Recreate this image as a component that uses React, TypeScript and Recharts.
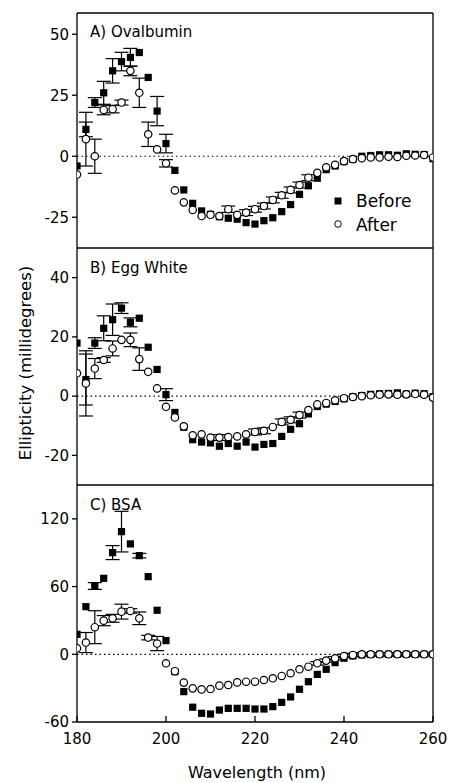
import { ScatterChart, Scatter, XAxis, YAxis, ErrorBar, ReferenceLine, Legend } from "recharts";

const FONT = "'DejaVu Sans', sans-serif";

// wavelength grid (nm)
const wavelengths = [
  180, 182, 184, 186, 188, 190, 192, 194, 196, 198, 200, 202, 204, 206, 208, 210, 212, 214, 216, 218, 220,
  222, 224, 226, 228, 230, 232, 234, 236, 238, 240, 242, 244, 246, 248, 250, 252, 254, 256, 258, 260,
];

// A) Ovalbumin
const beforeA = [
  -4, 11, 22, 26, 35, 38.8, 40.5, 42.5, 32.3, 18.5, 5.2, -5.8, -13.8, -19.3, -22.4, -23.8, -24.8, -25.4, -25.8, -27.2, -27.8,
  -26.4, -25.2, -22.7, -19.8, -15.6, -12.1, -9, -5.5, -4, -2.2, -1.2, 0, 0.3, 0.6, 0.6, 0.4, 1, 0.8, 0.7, -1,
];
const afterA = [
  -7.5, 7, 0, 19, 19.3, 22, 35, 26, 9, 2.8, -2.9, -14, -18.9, -22, -24.5, -24, -24.5, -21.7, -24, -23.1, -21.7,
  -20.4, -17.9, -16, -13.8, -11.8, -8.8, -6.8, -4.5, -3.5, -2, -1.2, -0.8, -0.5, -0.5, -0.2, -0.3, 0.2, 0.3, 0.5, -0.5,
];
const errBeforeA: Record<number, number> = { 182: 3, 184: 2, 186: 4.7, 188: 5, 190: 3.8, 192: 3.7, 198: 6, 200: 3.8 };
const errAfterA: Record<number, number> = {
  182: 11, 184: 7, 186: 2, 188: 1.5, 190: 1, 192: 2, 194: 6, 196: 5, 200: 1.5,
  214: 1.3, 218: 1.2, 220: 1.2, 222: 1.2, 224: 1.2, 226: 1.2, 228: 1.2, 230: 1.2, 232: 1.2,
};

// B) Egg White
const beforeB = [
  17.9, 5.6, 17.9, 22.9, 25.8, 29.7, 24.9, 26.3, 16.5, 9, 0.5, -5.5, -10.5, -14.7, -15.5, -15.8, -16.9, -16, -16.9, -15.5, -17.2,
  -16.3, -16, -13.6, -11.2, -9.3, -6, -3.5, -2.7, -1.8, -0.9, -0.2, 0.2, 0.6, 0.8, 0.9, 1.1, 0.7, 1, 0.8, -0.2,
];
const afterB = [
  7.7, 4.3, 9.3, 12.2, 16.1, 19, 19, 12.5, 8.2, 2.6, -3.6, -7.2, -10.2, -13.2, -12.9, -14, -14, -13.8, -13.6, -12.9, -12.1,
  -11.7, -10.4, -8.7, -8, -6.4, -4.7, -2.8, -2.3, -1.4, -0.7, -0.3, 0, 0.3, 0.5, 0.6, 0.5, 0.6, 0.7, 0.5, -0.5,
];
const errBeforeB: Record<number, number> = { 182: 8.6, 184: 1.8, 186: 4.2, 188: 5.3, 190: 1.8, 192: 1.5, 200: 2 };
const errAfterB: Record<number, number> = {
  182: 11, 184: 3.4, 186: 0.8, 188: 2.5, 192: 2.3, 194: 3.8, 212: 1, 220: 1, 222: 1, 226: 1, 228: 1, 230: 1,
};

// C) BSA
const beforeC = [
  17.7, 42.2, 60.5, 67.3, 90.1, 108.7, 97.8, 87.4, 68.8, 39, 12.1, -15.4, -33.1, -46.9, -52.3, -52.9, -49.4, -47.9, -47.9, -47.9, -48.5,
  -48.5, -46.4, -42.6, -37.8, -31, -24.3, -17.8, -13.3, -7.4, -3.5, -1.5, -0.6, -0.2, 0, 0, 0, 0, 0, 0, 0,
];
const afterC = [
  5.3, 10.4, 24, 29.8, 31.9, 37.8, 38.4, 31.9, 14.8, 9.5, -8, -15, -25.1, -30.2, -31.1, -30.8, -27.8, -27.2, -24.9, -24.3, -24.3,
  -22.8, -21.3, -19.2, -16.8, -13.3, -11, -8, -5.6, -3.5, -1.5, -0.6, 0, 0, 0, 0, 0, 0, 0, 0, 0,
];
const errBeforeC: Record<number, number> = { 184: 3, 188: 6.2, 190: 18, 194: 2 };
const errAfterC: Record<number, number> = {
  182: 8.9, 184: 14.6, 186: 4.5, 188: 3.5, 190: 6.6, 192: 2, 194: 5.6, 196: 2, 198: 6.3,
  234: 1.5, 236: 1.5, 238: 1.5, 240: 1.5, 242: 1.5, 244: 1.5, 246: 1.5, 248: 1.5, 250: 1.5, 252: 1.5, 254: 1.5, 256: 1.5, 258: 1.5,
};

const xMajor = [180, 200, 220, 240, 260];
const xMinor = [190, 210, 230, 250];

const toRows = (vals: number[], errs: Record<number, number>) =>
  wavelengths.map((wl, i) => ({ wl, v: vals[i], e: errs[wl] ?? 0 }));

function Square(props: any) {
  const { cx, cy } = props;
  if (cx == null || cy == null) return null;
  return <rect x={cx - 3.6} y={cy - 3.6} width={7.2} height={7.2} fill="#000" />;
}

function Ring(props: any) {
  const { cx, cy } = props;
  if (cx == null || cy == null) return null;
  return <circle cx={cx} cy={cy} r={3.7} fill="#fff" stroke="#000" strokeWidth={1.2} />;
}

function LegendBox() {
  return (
    <svg width={100} height={50} style={{ overflow: "visible" }}>
      <rect x={4.5} y={8.5} width={7} height={7} fill="#000" />
      <text x={26} y={18} fontSize={17} fontFamily={FONT} fill="#000">Before</text>
      <circle cx={8} cy={35} r={3.3} fill="#fff" stroke="#000" strokeWidth={1} />
      <text x={26} y={42} fontSize={17} fontFamily={FONT} fill="#000">After</text>
    </svg>
  );
}

interface PanelProps {
  top: number;
  height: number;
  marginTop: number;
  before: number[];
  after: number[];
  errBefore: Record<number, number>;
  errAfter: Record<number, number>;
  domain: [number, number];
  major: number[];
  minor: number[];
  showBottom?: boolean;
  legend?: boolean;
}

function Panel({ top, height, marginTop, before, after, errBefore, errAfter, domain, major, minor, showBottom, legend }: PanelProps) {
  const axisStroke = { stroke: "#000", strokeWidth: 1.3 };
  return (
    <div style={{ position: "absolute", left: 0, top, width: 449, height }}>
      <ScatterChart width={449} height={height} margin={{ top: marginTop, right: 16, bottom: 0, left: 0 }}>
        <XAxis
          xAxisId="x"
          dataKey="wl"
          type="number"
          domain={[180, 260]}
          allowDataOverflow
          ticks={xMajor}
          hide={!showBottom}
          height={showBottom ? 61 : 0}
          axisLine={axisStroke}
          tickLine={axisStroke}
          tickSize={-6}
          tickMargin={17}
          tick={{ fontSize: 15, fill: "#000", fontFamily: FONT }}
        />
        {showBottom && (
          <XAxis xAxisId="bm" type="number" domain={[180, 260]} ticks={xMinor} orientation="bottom" mirror height={1}
            tick={false} axisLine={false} tickLine={axisStroke} tickSize={4} />
        )}
        <XAxis xAxisId="tM" type="number" domain={[180, 260]} ticks={xMajor} orientation="top" mirror height={1}
          tick={false} axisLine={axisStroke} tickLine={axisStroke} tickSize={6} />
        <XAxis xAxisId="tm" type="number" domain={[180, 260]} ticks={xMinor} orientation="top" mirror height={1}
          tick={false} axisLine={false} tickLine={axisStroke} tickSize={4} />
        <YAxis
          yAxisId="y"
          type="number"
          domain={domain}
          allowDataOverflow
          ticks={major}
          width={77}
          axisLine={axisStroke}
          tickLine={axisStroke}
          tickSize={5}
          tickMargin={3}
          tick={{ fontSize: 15, fill: "#000", fontFamily: FONT }}
        />
        <YAxis yAxisId="lm" type="number" domain={domain} ticks={minor} orientation="left" mirror width={1}
          tick={false} axisLine={false} tickLine={axisStroke} tickSize={3} />
        <YAxis yAxisId="rM" type="number" domain={domain} ticks={[...major, ...minor]} orientation="right" mirror width={1}
          tick={false} axisLine={axisStroke} tickLine={axisStroke} tickSize={4} />
        <ReferenceLine xAxisId="x" yAxisId="y" y={0} stroke="#000" strokeWidth={1.2} strokeDasharray="1.5 3" />
        <Scatter xAxisId="x" yAxisId="y" name="Before" data={toRows(before, errBefore)} dataKey="v" shape={Square} isAnimationActive={false}>
          <ErrorBar dataKey="e" direction="y" width={7} stroke="#000" strokeWidth={1.2} isAnimationActive={false} />
        </Scatter>
        <Scatter xAxisId="x" yAxisId="y" name="After" data={toRows(after, errAfter)} dataKey="v" shape={Ring} isAnimationActive={false}>
          <ErrorBar dataKey="e" direction="y" width={7} stroke="#000" strokeWidth={1.2} isAnimationActive={false} />
        </Scatter>
        {legend && (
          <Legend verticalAlign="middle" content={() => <LegendBox />}
            wrapperStyle={{ position: "absolute", left: 330, top: 189, width: 100, height: 50 }} />
        )}
      </ScatterChart>
    </div>
  );
}

export default function App() {
  return (
    <div style={{ position: "absolute", left: 0, top: 0, width: 449, height: 783, background: "#fff", fontFamily: FONT }}>
      <Panel top={0} height={248} marginTop={13} before={beforeA} after={afterA} errBefore={errBeforeA} errAfter={errAfterA}
        domain={[-37.6, 58.7]} major={[-25, 0, 25, 50]} minor={[-12.5, 12.5, 37.5]} legend />
      <Panel top={240} height={245} marginTop={8} before={beforeB} after={afterB} errBefore={errBeforeB} errAfter={errAfterB}
        domain={[-30, 50]} major={[-20, 0, 20, 40]} minor={[-10, 10, 30]} />
      <Panel top={477} height={306} marginTop={8} before={beforeC} after={afterC} errBefore={errBeforeC} errAfter={errAfterC}
        domain={[-60, 150]} major={[-60, 0, 60, 120]} minor={[-30, 30, 90]} showBottom />
      <svg width={449} height={783} style={{ position: "absolute", left: 0, top: 0, pointerEvents: "none" }}>
        <text x={90} y={37} fontSize={15} fontFamily={FONT} fill="#000">A) Ovalbumin</text>
        <text x={90} y={273} fontSize={15} fontFamily={FONT} fill="#000">B) Egg White</text>
        <text x={90} y={510} fontSize={15} fontFamily={FONT} fill="#000">C) BSA</text>
        <text transform="translate(31,363) rotate(-90)" textAnchor="middle" fontSize={16.5} fontFamily={FONT} fill="#000">
          Ellipticity (millidegrees)
        </text>
        <text x={257} y={778} textAnchor="middle" fontSize={16} fontFamily={FONT} fill="#000">Wavelength (nm)</text>
      </svg>
    </div>
  );
}
